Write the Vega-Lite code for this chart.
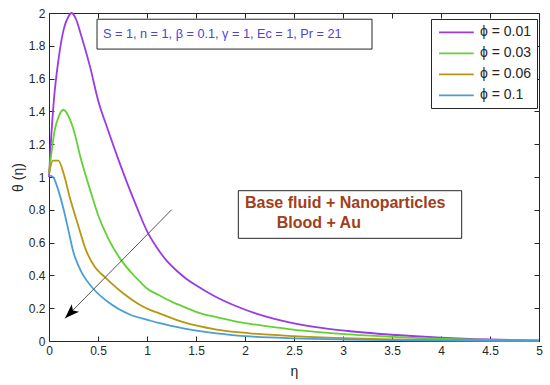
{
  "$schema": "https://vega.github.io/schema/vega-lite/v6.json",
  "autosize": {"type": "none"},
  "width": 490,
  "height": 328,
  "padding": {"left": 49, "top": 13, "right": 11, "bottom": 44},
  "background": "white",
  "config": {
    "view": {"stroke": "#262626", "strokeWidth": 1},
    "font": "Liberation Sans",
    "axis": {"labelFont": "Liberation Sans", "titleFont": "Liberation Sans", "labelColor": "#262626", "titleColor": "#262626", "tickColor": "#262626", "domainColor": "#262626", "grid": false}
  },
  "datasets": {
    "curves": [
      {"eta": 0, "theta": 1.0, "phi": "ϕ = 0.01"},
      {"eta": 0.02, "theta": 1.22, "phi": "ϕ = 0.01"},
      {"eta": 0.05, "theta": 1.47, "phi": "ϕ = 0.01"},
      {"eta": 0.1, "theta": 1.73, "phi": "ϕ = 0.01"},
      {"eta": 0.15, "theta": 1.9, "phi": "ϕ = 0.01"},
      {"eta": 0.2, "theta": 1.98, "phi": "ϕ = 0.01"},
      {"eta": 0.23, "theta": 2.0, "phi": "ϕ = 0.01"},
      {"eta": 0.27, "theta": 1.97, "phi": "ϕ = 0.01"},
      {"eta": 0.33, "theta": 1.86, "phi": "ϕ = 0.01"},
      {"eta": 0.42, "theta": 1.67, "phi": "ϕ = 0.01"},
      {"eta": 0.5, "theta": 1.47, "phi": "ϕ = 0.01"},
      {"eta": 0.6, "theta": 1.29, "phi": "ϕ = 0.01"},
      {"eta": 0.7, "theta": 1.12, "phi": "ϕ = 0.01"},
      {"eta": 0.8, "theta": 0.96, "phi": "ϕ = 0.01"},
      {"eta": 0.9, "theta": 0.81, "phi": "ϕ = 0.01"},
      {"eta": 1.0, "theta": 0.67, "phi": "ϕ = 0.01"},
      {"eta": 1.1, "theta": 0.57, "phi": "ϕ = 0.01"},
      {"eta": 1.2, "theta": 0.49, "phi": "ϕ = 0.01"},
      {"eta": 1.3, "theta": 0.43, "phi": "ϕ = 0.01"},
      {"eta": 1.4, "theta": 0.38, "phi": "ϕ = 0.01"},
      {"eta": 1.5, "theta": 0.34, "phi": "ϕ = 0.01"},
      {"eta": 1.7, "theta": 0.27, "phi": "ϕ = 0.01"},
      {"eta": 1.9, "theta": 0.215, "phi": "ϕ = 0.01"},
      {"eta": 2.1, "theta": 0.17, "phi": "ϕ = 0.01"},
      {"eta": 2.3, "theta": 0.135, "phi": "ϕ = 0.01"},
      {"eta": 2.5, "theta": 0.108, "phi": "ϕ = 0.01"},
      {"eta": 2.8, "theta": 0.078, "phi": "ϕ = 0.01"},
      {"eta": 3.1, "theta": 0.058, "phi": "ϕ = 0.01"},
      {"eta": 3.5, "theta": 0.038, "phi": "ϕ = 0.01"},
      {"eta": 4.0, "theta": 0.02, "phi": "ϕ = 0.01"},
      {"eta": 4.5, "theta": 0.009, "phi": "ϕ = 0.01"},
      {"eta": 5.0, "theta": 0.003, "phi": "ϕ = 0.01"},
      {"eta": 0, "theta": 1.02, "phi": "ϕ = 0.03"},
      {"eta": 0.03, "theta": 1.17, "phi": "ϕ = 0.03"},
      {"eta": 0.06, "theta": 1.29, "phi": "ϕ = 0.03"},
      {"eta": 0.1, "theta": 1.37, "phi": "ϕ = 0.03"},
      {"eta": 0.146, "theta": 1.41, "phi": "ϕ = 0.03"},
      {"eta": 0.2, "theta": 1.37, "phi": "ϕ = 0.03"},
      {"eta": 0.25, "theta": 1.29, "phi": "ϕ = 0.03"},
      {"eta": 0.33, "theta": 1.1, "phi": "ϕ = 0.03"},
      {"eta": 0.42, "theta": 0.92, "phi": "ϕ = 0.03"},
      {"eta": 0.5, "theta": 0.77, "phi": "ϕ = 0.03"},
      {"eta": 0.6, "theta": 0.63, "phi": "ϕ = 0.03"},
      {"eta": 0.74, "theta": 0.49, "phi": "ϕ = 0.03"},
      {"eta": 0.85, "theta": 0.41, "phi": "ϕ = 0.03"},
      {"eta": 0.93, "theta": 0.36, "phi": "ϕ = 0.03"},
      {"eta": 1.0, "theta": 0.32, "phi": "ϕ = 0.03"},
      {"eta": 1.12, "theta": 0.28, "phi": "ϕ = 0.03"},
      {"eta": 1.25, "theta": 0.24, "phi": "ϕ = 0.03"},
      {"eta": 1.37, "theta": 0.21, "phi": "ϕ = 0.03"},
      {"eta": 1.54, "theta": 0.17, "phi": "ϕ = 0.03"},
      {"eta": 1.71, "theta": 0.145, "phi": "ϕ = 0.03"},
      {"eta": 1.9, "theta": 0.12, "phi": "ϕ = 0.03"},
      {"eta": 2.05, "theta": 0.105, "phi": "ϕ = 0.03"},
      {"eta": 2.36, "theta": 0.08, "phi": "ϕ = 0.03"},
      {"eta": 2.56, "theta": 0.065, "phi": "ϕ = 0.03"},
      {"eta": 3.07, "theta": 0.04, "phi": "ϕ = 0.03"},
      {"eta": 3.5, "theta": 0.025, "phi": "ϕ = 0.03"},
      {"eta": 4.0, "theta": 0.013, "phi": "ϕ = 0.03"},
      {"eta": 4.5, "theta": 0.006, "phi": "ϕ = 0.03"},
      {"eta": 5.0, "theta": 0.002, "phi": "ϕ = 0.03"},
      {"eta": 0, "theta": 1.02, "phi": "ϕ = 0.06"},
      {"eta": 0.04, "theta": 1.1, "phi": "ϕ = 0.06"},
      {"eta": 0.095, "theta": 1.1, "phi": "ϕ = 0.06"},
      {"eta": 0.15, "theta": 1.02, "phi": "ϕ = 0.06"},
      {"eta": 0.21, "theta": 0.88, "phi": "ϕ = 0.06"},
      {"eta": 0.28, "theta": 0.74, "phi": "ϕ = 0.06"},
      {"eta": 0.38, "theta": 0.55, "phi": "ϕ = 0.06"},
      {"eta": 0.47, "theta": 0.45, "phi": "ϕ = 0.06"},
      {"eta": 0.57, "theta": 0.39, "phi": "ϕ = 0.06"},
      {"eta": 0.76, "theta": 0.29, "phi": "ϕ = 0.06"},
      {"eta": 0.93, "theta": 0.22, "phi": "ϕ = 0.06"},
      {"eta": 1.03, "theta": 0.19, "phi": "ϕ = 0.06"},
      {"eta": 1.12, "theta": 0.17, "phi": "ϕ = 0.06"},
      {"eta": 1.37, "theta": 0.115, "phi": "ϕ = 0.06"},
      {"eta": 1.71, "theta": 0.07, "phi": "ϕ = 0.06"},
      {"eta": 2.05, "theta": 0.047, "phi": "ϕ = 0.06"},
      {"eta": 2.5, "theta": 0.03, "phi": "ϕ = 0.06"},
      {"eta": 3.0, "theta": 0.018, "phi": "ϕ = 0.06"},
      {"eta": 3.5, "theta": 0.01, "phi": "ϕ = 0.06"},
      {"eta": 4.0, "theta": 0.005, "phi": "ϕ = 0.06"},
      {"eta": 5.0, "theta": 0.001, "phi": "ϕ = 0.06"},
      {"eta": 0, "theta": 1.01, "phi": "ϕ = 0.1"},
      {"eta": 0.04, "theta": 1.0, "phi": "ϕ = 0.1"},
      {"eta": 0.095, "theta": 0.92, "phi": "ϕ = 0.1"},
      {"eta": 0.15, "theta": 0.8, "phi": "ϕ = 0.1"},
      {"eta": 0.2, "theta": 0.67, "phi": "ϕ = 0.1"},
      {"eta": 0.25, "theta": 0.54, "phi": "ϕ = 0.1"},
      {"eta": 0.3, "theta": 0.46, "phi": "ϕ = 0.1"},
      {"eta": 0.35, "theta": 0.4, "phi": "ϕ = 0.1"},
      {"eta": 0.45, "theta": 0.32, "phi": "ϕ = 0.1"},
      {"eta": 0.62, "theta": 0.23, "phi": "ϕ = 0.1"},
      {"eta": 0.83, "theta": 0.16, "phi": "ϕ = 0.1"},
      {"eta": 1.03, "theta": 0.125, "phi": "ϕ = 0.1"},
      {"eta": 1.12, "theta": 0.11, "phi": "ϕ = 0.1"},
      {"eta": 1.37, "theta": 0.077, "phi": "ϕ = 0.1"},
      {"eta": 1.71, "theta": 0.047, "phi": "ϕ = 0.1"},
      {"eta": 2.05, "theta": 0.028, "phi": "ϕ = 0.1"},
      {"eta": 2.5, "theta": 0.016, "phi": "ϕ = 0.1"},
      {"eta": 3.0, "theta": 0.009, "phi": "ϕ = 0.1"},
      {"eta": 3.5, "theta": 0.005, "phi": "ϕ = 0.1"},
      {"eta": 4.0, "theta": 0.003, "phi": "ϕ = 0.1"},
      {"eta": 5.0, "theta": 0.001, "phi": "ϕ = 0.1"}
    ],
    "arrow": [
      {"x1": 1.25, "y1": 0.8, "x2": 0.163, "y2": 0.138}
    ]
  },
  "resolve": {"axis": {"x": "independent", "y": "independent"}},
  "layer": [
    {
      "data": {"name": "curves"},
      "mark": {"type": "line", "strokeWidth": 1.8, "interpolate": "monotone"},
      "encoding": {
        "x": {"field": "eta", "type": "quantitative",
              "scale": {"domain": [0, 5], "nice": false, "zero": false},
              "axis": {"orient": "bottom", "title": "η", "titleFontSize": 14, "titleFontWeight": "normal", "titlePadding": 8,
                       "values": [0, 0.5, 1, 1.5, 2, 2.5, 3, 3.5, 4, 4.5, 5], "format": "~g",
                       "labelFontSize": 12, "tickSize": -5, "labelPadding": 9, "domain": false, "labelFlush": false}},
        "y": {"field": "theta", "type": "quantitative",
              "scale": {"domain": [0, 2], "nice": false, "zero": false},
              "axis": {"orient": "left", "title": "θ (η)", "titleFontSize": 14, "titleFontWeight": "normal", "titlePadding": 3,
                       "values": [0, 0.2, 0.4, 0.6, 0.8, 1, 1.2, 1.4, 1.6, 1.8, 2], "format": "~g",
                       "labelFontSize": 12, "tickSize": -5, "labelPadding": 9, "domain": false, "labelFlush": false}},
        "color": {"field": "phi", "type": "nominal",
                  "scale": {"domain": ["ϕ = 0.01", "ϕ = 0.03", "ϕ = 0.06", "ϕ = 0.1"],
                            "range": ["#9a3ae6", "#62d232", "#b8960f", "#4a9fd2"]},
                  "legend": {"orient": "none", "legendX": 382, "legendY": 6, "title": null,
                             "symbolType": "M-0.77,0H4.2", "symbolSize": 196, "symbolStrokeWidth": 1.8,
                             "labelFontSize": 14, "labelColor": "#262626", "labelOffset": 27.6,
                             "strokeColor": "#262626", "fillColor": "white", "padding": 5.4,
                             "rowPadding": 6}}
      }
    },
    {
      "data": {"name": "arrow"},
      "mark": {"type": "rule", "color": "#555555", "strokeWidth": 1},
      "encoding": {
        "x": {"field": "x1", "type": "quantitative",
              "axis": {"orient": "top", "labels": false, "title": null, "domain": false, "tickSize": -5,
                       "values": [0, 0.5, 1, 1.5, 2, 2.5, 3, 3.5, 4, 4.5, 5]}},
        "y": {"field": "y1", "type": "quantitative",
              "axis": {"orient": "right", "labels": false, "title": null, "domain": false, "tickSize": -5,
                       "values": [0, 0.2, 0.4, 0.6, 0.8, 1, 1.2, 1.4, 1.6, 1.8, 2]}},
        "x2": {"field": "x2"},
        "y2": {"field": "y2"}
      }
    },
    {
      "data": {"name": "arrow"},
      "mark": {"type": "point", "shape": "M0,0L0.6,1.7L0,1.3L-0.6,1.7Z", "filled": true, "color": "black", "opacity": 1, "size": 300, "angle": 225},
      "encoding": {
        "x": {"field": "x2", "type": "quantitative", "axis": null},
        "y": {"field": "y2", "type": "quantitative", "axis": null}
      }
    },
    {
      "data": {"values": [{}]},
      "mark": {"type": "rect", "fill": "white", "stroke": "#262626", "strokeWidth": 1},
      "encoding": {
        "x": {"datum": 0.49, "type": "quantitative", "axis": null},
        "x2": {"datum": 3.296},
        "y": {"datum": 1.962, "type": "quantitative", "axis": null},
        "y2": {"datum": 1.78}
      }
    },
    {
      "data": {"values": [{}]},
      "mark": {"type": "text", "text": "S = 1, n = 1, β = 0.1, γ = 1, Ec = 1, Pr = 21", "align": "left", "baseline": "middle", "fontSize": 12.7, "color": "#4d44d4", "font": "Liberation Sans"},
      "encoding": {
        "x": {"datum": 0.551, "type": "quantitative", "axis": null},
        "y": {"datum": 1.875, "type": "quantitative", "axis": null}
      }
    },
    {
      "data": {"values": [{}]},
      "mark": {"type": "rect", "fill": "white", "stroke": "#262626", "strokeWidth": 1},
      "encoding": {
        "x": {"datum": 1.932, "type": "quantitative", "axis": null},
        "x2": {"datum": 4.211},
        "y": {"datum": 0.9165, "type": "quantitative", "axis": null},
        "y2": {"datum": 0.626}
      }
    },
    {
      "data": {"values": [{}]},
      "mark": {"type": "text", "text": "Base fluid + Nanoparticles", "align": "left", "baseline": "middle", "fontSize": 16, "fontWeight": "bold", "color": "#a0401a", "font": "Liberation Sans"},
      "encoding": {
        "x": {"datum": 2.0, "type": "quantitative", "axis": null},
        "y": {"datum": 0.841, "type": "quantitative", "axis": null}
      }
    },
    {
      "data": {"values": [{}]},
      "mark": {"type": "text", "text": "Blood + Au", "align": "left", "baseline": "middle", "fontSize": 16, "fontWeight": "bold", "color": "#a0401a", "font": "Liberation Sans"},
      "encoding": {
        "x": {"datum": 2.323, "type": "quantitative", "axis": null},
        "y": {"datum": 0.721, "type": "quantitative", "axis": null}
      }
    }
  ]
}
